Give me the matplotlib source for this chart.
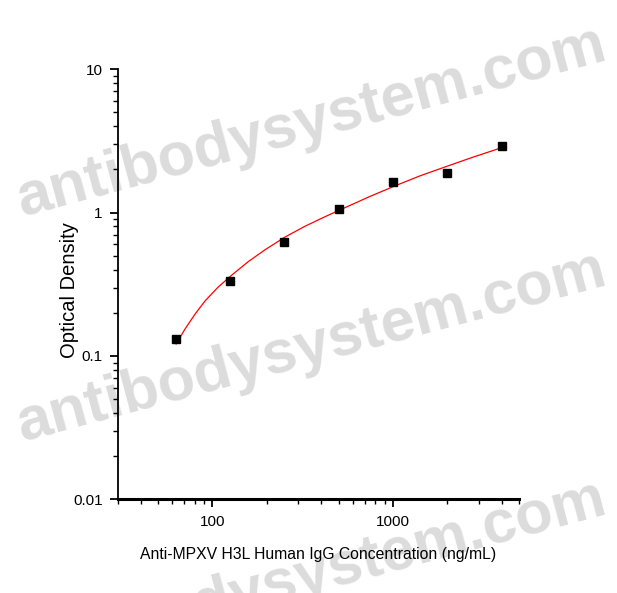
import matplotlib
matplotlib.use("Agg")
import matplotlib.pyplot as plt
from matplotlib.ticker import LogLocator, NullFormatter, FixedLocator, FixedFormatter

# ---- data ----
conc = [62.5, 125, 250, 500, 1000, 2000, 4000]
od = [0.131, 0.334, 0.621, 1.056, 1.638, 1.883, 2.89]

# fitted curve
curve_x = [63.0, 70.7, 80.3, 91.1, 107.5, 128.5, 157.5, 195.5, 252.2, 325.2,
           419.5, 541, 743, 1022, 1404, 1980, 2792, 3936]
curve_y = [0.1213, 0.1548, 0.1964, 0.2419, 0.3016, 0.3675, 0.4529, 0.5492,
           0.6734, 0.8012, 0.9333, 1.0784, 1.2912, 1.5286, 1.7948, 2.0941,
           2.4356, 2.8096]

x_ticks = [100, 1000]
x_ticklabels = ["100", "1000"]
y_ticks = [0.01, 0.1, 1, 10]
y_ticklabels = ["0.01", "0.1", "1", "10"]

xlabel = "Anti-MPXV H3L Human IgG Concentration (ng/mL)"
ylabel = "Optical Density"
watermark = "antibodysystem.com"

regular = ["Liberation Sans", "DejaVu Sans"]

fig = plt.figure(figsize=(6.17, 5.93), dpi=100)

# watermarks (behind the axes)
for cy in [0.793, 0.413, 0.027]:
    fig.text(0.505, cy, watermark, fontsize=44, fontweight="bold",
             family=regular, color="#dcdcdc", rotation=15,
             ha="center", va="center", rotation_mode="anchor", zorder=0)

ax = fig.add_axes([0.1912, 0.1577, 0.6500, 0.7259])
ax.set_zorder(2)
ax.patch.set_alpha(0)
ax.set_xscale("log")
ax.set_yscale("log")
ax.set_xlim(30, 5000)
ax.set_ylim(0.01, 10)

ax.plot(curve_x, curve_y, color="red", lw=0.9, zorder=3)
ax.plot(conc, od, ls="none", marker="s", ms=6, color="black", zorder=4)

for s in ["top", "right"]:
    ax.spines[s].set_visible(False)
ax.spines["left"].set_linewidth(1.3)
ax.spines["bottom"].set_linewidth(2.2)

ax.xaxis.set_major_locator(FixedLocator(x_ticks))
ax.xaxis.set_major_formatter(FixedFormatter(x_ticklabels))
ax.xaxis.set_minor_locator(LogLocator(base=10, subs=range(2, 10)))
ax.xaxis.set_minor_formatter(NullFormatter())
ax.yaxis.set_major_locator(FixedLocator(y_ticks))
ax.yaxis.set_major_formatter(FixedFormatter(y_ticklabels))
ax.yaxis.set_minor_locator(LogLocator(base=10, subs=range(2, 10)))
ax.yaxis.set_minor_formatter(NullFormatter())

ax.tick_params(which="major", direction="out", length=6, width=1.3, pad=5,
               labelsize=11)
ax.tick_params(which="minor", direction="out", length=3.5, width=1.0)
for lab in ax.get_xticklabels() + ax.get_yticklabels():
    lab.set_family(regular)

ax.set_xlabel(xlabel, fontsize=11.3, family=regular, va="center")
ax.xaxis.set_label_coords(0.499, -0.127)
ax.set_ylabel(ylabel, fontsize=14.5, family=regular, va="center")
ax.yaxis.set_label_coords(-0.122, 0.487)

fig.savefig("out.png", dpi=100)
